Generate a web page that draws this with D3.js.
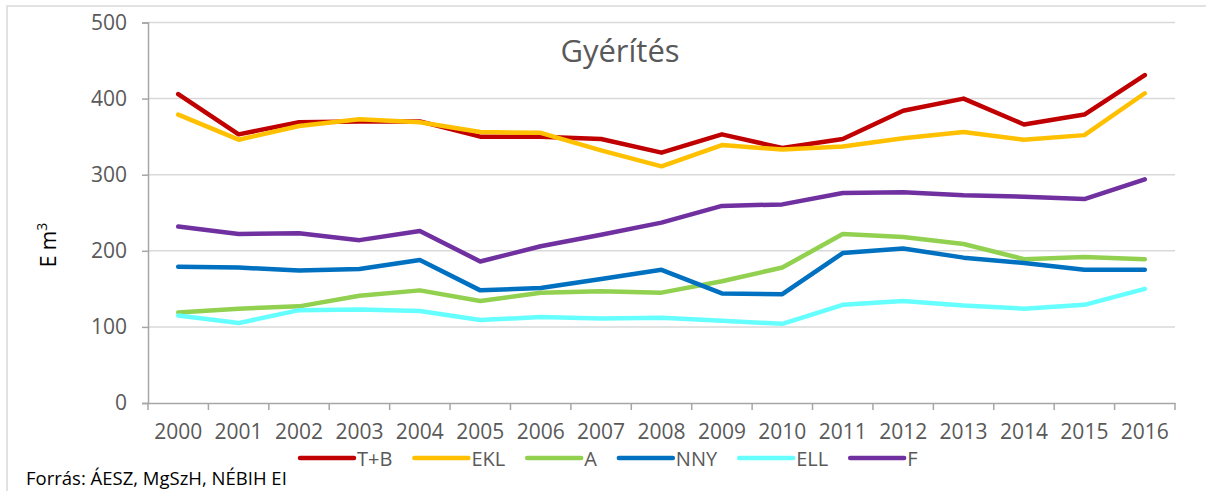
<!DOCTYPE html>
<html>
<head>
<meta charset="utf-8">
<script src="https://cdn.jsdelivr.net/npm/d3@7"></script>
<style>
  body { margin: 0; background: #fff; }
  text { font-family: "Open Sans", sans-serif; }
</style>
</head>
<body>
<div id="chart"></div>
<script>
const years = ['2000', '2001', '2002', '2003', '2004', '2005', '2006', '2007', '2008',
    '2009', '2010', '2011', '2012', '2013', '2014', '2015', '2016']
const seriesNames = ['T+B', 'EKL', 'A', 'NNY', 'ELL', 'F']
const seriesColors = ['#C00000', '#FFC000', '#92D050', '#0070C0', '#66FFFF', '#7030A0']
const tb = [406, 353, 369, 370, 370, 350, 350, 347, 329, 353, 335, 347, 384, 400, 366, 379, 431]
const ekl = [379, 346, 364, 373, 369, 356, 355, 332, 311, 339, 333, 337, 348, 356, 346, 352, 407]
const a = [119, 124, 127, 141, 148, 134, 145, 147, 145, 160, 178, 222, 218, 209, 189, 192, 189]
const nny = [179, 178, 174, 176, 188, 148, 151, 163, 175, 144, 143, 197, 203, 191, 184, 175, 175]
const ell = [115, 105, 122, 123, 121, 109, 113, 111, 112, 108, 104, 129, 134, 128, 124, 129, 150]
const f = [232, 222, 223, 214, 226, 186, 206, 221, 237, 259, 261, 276, 277, 273, 271, 268, 294]
const seriesValues = [tb, ekl, a, nny, ell, f]
const yTicks = [0, 100, 200, 300, 400, 500]

const width = 1206, height = 491
const margin = {left: 148, right: 31, top: 22.5, bottom: 88}

const svg = d3.select('#chart').append('svg')
    .attr('width', width)
    .attr('height', height)

// outer frame (only top and left visible in the crop)
svg.append('rect')
    .attr('x', 7).attr('y', 6)
    .attr('width', width).attr('height', height)
    .attr('fill', 'none')
    .attr('stroke', '#d9d9d9')
    .attr('stroke-width', 1.5)

const x = d3.scaleBand()
    .domain(years)
    .range([margin.left, width - margin.right])
const y = d3.scaleLinear()
    .domain([0, 500])
    .range([height - margin.bottom, margin.top])

// gridlines
svg.append('g').selectAll('line')
    .data(yTicks.filter(d => d > 0))
    .enter().append('line')
    .attr('x1', margin.left).attr('x2', width - margin.right)
    .attr('y1', d => y(d)).attr('y2', d => y(d))
    .attr('stroke', '#d9d9d9')
    .attr('stroke-width', 1.5)

// y axis
const yAxis = svg.append('g')
    .attr('transform', `translate(${margin.left},0)`)
    .call(d3.axisLeft(y).tickValues(yTicks).tickSize(6).tickPadding(15))
yAxis.select('.domain').attr('stroke', '#a6a6a6').attr('stroke-width', 1.5)
yAxis.selectAll('.tick line').attr('stroke', '#a6a6a6').attr('stroke-width', 1.5)
yAxis.selectAll('.tick text')
    .attr('fill', '#595959')
    .style('font-size', '21px')

// x axis
const xAxis = svg.append('g')
    .attr('transform', `translate(0,${y(0)})`)
    .call(d3.axisBottom(x).tickSize(0).tickPadding(21))
xAxis.select('.domain').attr('stroke', '#a6a6a6').attr('stroke-width', 1.5)
xAxis.selectAll('.tick text')
    .attr('fill', '#595959')
    .style('font-size', '21px')
// ticks on band boundaries
xAxis.selectAll('.bound')
    .data(years.map(d => x(d)).concat([x(years[years.length - 1]) + x.bandwidth()]))
    .enter().append('line')
    .attr('class', 'bound')
    .attr('x1', d => d).attr('x2', d => d)
    .attr('y1', 0).attr('y2', 7)
    .attr('stroke', '#a6a6a6')
    .attr('stroke-width', 1.5)

// y axis title
svg.append('text')
    .attr('transform', 'translate(56,245) rotate(-90)')
    .attr('text-anchor', 'middle')
    .attr('fill', '#000')
    .style('font-size', '21px')
    .text('E m')
    .append('tspan')
    .attr('dy', -9)
    .style('font-size', '14px')
    .text('3')

// chart title
svg.append('text')
    .attr('x', 620).attr('y', 62)
    .attr('text-anchor', 'middle')
    .attr('fill', '#595959')
    .style('font-size', '31px')
    .text('Gyérítés')

// lines
const line = d3.line()
    .x((d, i) => x(years[i]) + x.bandwidth() / 2)
    .y(d => y(d))
svg.append('g').selectAll('path')
    .data(seriesValues)
    .enter().append('path')
    .attr('d', line)
    .attr('fill', 'none')
    .attr('stroke', (d, i) => seriesColors[i])
    .attr('stroke-width', 4.5)
    .attr('stroke-linecap', 'round')
    .attr('stroke-linejoin', 'round')

// legend
const legend = svg.append('g').attr('transform', 'translate(300,458)')
let lx = 0
seriesNames.forEach((name, i) => {
    const item = legend.append('g').attr('transform', `translate(${lx},0)`)
    item.append('line')
        .attr('x1', 0).attr('x2', 54)
        .attr('y1', 0).attr('y2', 0)
        .attr('stroke', seriesColors[i])
        .attr('stroke-width', 4.5)
        .attr('stroke-linecap', 'round')
    const t = item.append('text')
        .attr('x', 57).attr('y', 7.5)
        .attr('fill', '#595959')
        .style('font-size', '20px')
        .text(name)
    lx += 57 + t.node().getComputedTextLength() + 22
})

// source note
svg.append('text')
    .attr('x', 26).attr('y', 485)
    .attr('fill', '#000')
    .style('font-size', '18.5px')
    .text('Forrás: ÁESZ, MgSzH, NÉBIH EI')
</script>
</body>
</html>
